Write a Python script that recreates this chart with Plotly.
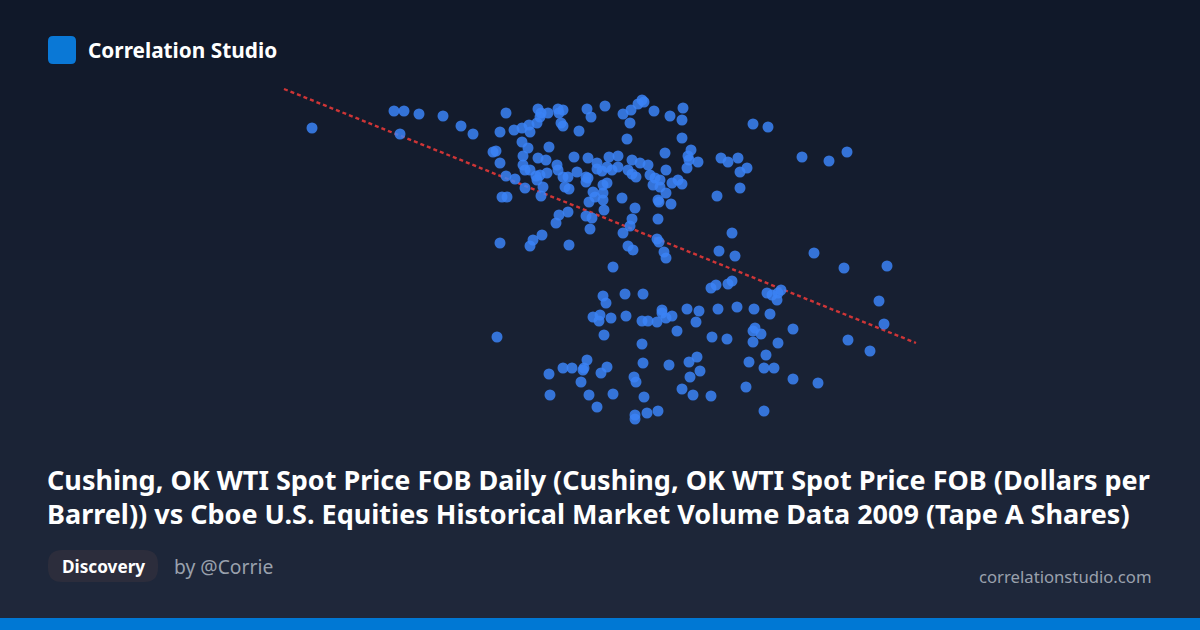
import plotly.graph_objects as go

# 2009 daily observations: WTI spot price ($/bbl) vs Cboe Tape A volume (millions of shares)
wti_price = [
    31.2, 39.4, 40.4, 41.9, 44.3, 46.1, 47.3, 40.0, 49.7,
    50.6, 50.0, 49.3, 49.6, 50.0, 50.6, 51.5, 50.2, 50.7, 50.0,
    51.4, 52.2, 52.9, 53.0, 53.7, 53.8, 54.1, 54.8, 54.0,
    55.8, 56.3, 55.9, 56.1, 56.3, 58.7, 59.1, 57.9,
    52.2, 52.8, 54.9, 52.3, 53.8, 54.6, 55.7, 57.4, 58.8,
    52.3, 52.5, 53.0, 53.6, 53.7, 54.0, 54.7, 55.8, 56.3, 56.8, 57.7, 59.7,
    56.5, 56.9, 58.6, 58.6, 58.8, 52.5, 54.3, 54.1, 59.3, 59.5, 58.9,
    55.9, 56.8, 55.6, 58.6, 59.2, 59.0, 54.2, 53.3, 53.0, 56.9, 59.7,
    60.5, 62.3, 63.1, 63.8, 64.2, 64.4, 63.0, 65.4, 67.0, 68.3, 68.2,
    62.7, 68.2, 66.5, 69.1, 68.8, 68.9, 69.8, 68.7, 66.6,
    60.9, 61.8, 60.2, 60.7, 61.2, 61.8, 63.2, 64.0, 64.8, 62.8, 63.2, 63.6,
    65.0, 65.5, 66.0, 65.3, 66.0, 66.6, 67.2, 67.8, 68.2,
    60.3, 60.7, 60.3, 60.3, 60.4, 62.2, 63.5, 63.2, 63.0, 62.3, 62.8, 63.3,
    65.8, 65.9, 67.1, 65.8, 65.7, 65.9, 66.4, 66.6,
    72.1, 72.8, 73.8, 74.7, 74.0, 74.0, 71.7, 75.3, 76.8, 80.2, 82.9, 84.7,
    73.2, 71.9, 73.5, 81.4, 84.4, 88.7, 61.3,
    71.1, 71.6, 72.8, 73.2, 76.7, 77.2, 77.7, 78.1, 77.8, 87.9, 88.4, 84.8, 87.0,
    60.3, 60.6, 62.5, 64.3, 59.3, 60.0, 59.9, 61.1, 62.6, 60.4, 64.2, 64.8, 65.7,
    66.2, 66.2, 66.6, 67.2, 67.7, 68.7, 69.9, 69.6, 71.8, 73.7, 75.4, 77.0,
    71.2, 72.7, 75.3, 75.5, 76.1, 75.3, 77.8, 79.3,
    64.2, 64.3, 66.9, 68.9, 69.7, 70.0, 69.0, 74.9, 76.6, 76.4, 77.4, 79.3, 81.8, 74.6, 76.4,
    54.9, 55.0, 56.3, 57.2, 58.7, 58.4, 58.3, 60.7, 60.1, 58.1, 58.9, 61.3, 59.7,
    63.4, 63.6, 64.4, 63.5, 63.5, 64.7, 65.8, 68.2, 69.3, 71.1,
]
tape_a_volume = [
    502, 519, 519, 516, 514, 504, 496, 496, 293,
    517, 498, 478, 479, 467, 454, 451, 433, 433, 387,
    500, 502, 505, 498, 507, 521, 517, 517, 513,
    521, 520, 517, 507, 504, 521, 513, 499,
    488, 482, 483, 474, 472, 470, 465, 473, 472,
    465, 460, 460, 454, 450, 455, 457, 460, 453, 453, 458, 461,
    443, 441, 453, 448, 452, 442, 443, 434, 438, 433, 428,
    415, 418, 407, 414, 412, 401, 395, 390, 384, 385, 467,
    524, 516, 520, 526, 530, 528, 507, 519, 514, 522, 510,
    491, 492, 477, 480, 474, 470, 468, 462, 460,
    473, 474, 459, 463, 460, 463, 470, 467, 465, 460, 456, 453,
    455, 452, 450, 445, 443, 437, 447, 450, 446,
    445, 447, 437, 430, 420, 432, 422, 411, 404, 397, 384, 380,
    430, 428, 426, 411, 391, 388, 378, 372,
    472, 468, 472, 462, 458, 442, 434, 506, 503, 473, 469, 478,
    397, 379, 374, 377, 362, 364, 363,
    342, 345, 346, 349, 337, 335, 330, 340, 337, 329, 306, 290, 279,
    334, 327, 336, 336, 313, 315, 309, 312, 314, 295, 309, 309, 308,
    320, 317, 312, 314, 299, 321, 319, 308, 321, 323, 321, 316,
    293, 291, 299, 302, 296, 288, 287, 301,
    286, 267, 265, 268, 273, 259, 253, 268, 275, 262, 262, 251, 247, 243, 219,
    256, 235, 262, 262, 270, 262, 260, 263, 257, 248, 235, 236, 223,
    253, 248, 233, 215, 211, 217, 219, 241, 235, 234,
]
trend_price = [28.4, 91.6]
trend_volume = [541, 287]

title_lines = [
    "Cushing, OK WTI Spot Price FOB Daily (Cushing, OK WTI Spot Price FOB (Dollars per",
    "Barrel)) vs Cboe U.S. Equities Historical Market Volume Data 2009 (Tape A Shares)",
]
brand = "Correlation Studio"
tag = "Discovery"
author = "by @Corrie"
site = "correlationstudio.com"

W, H = 1200, 630
FONT = "Noto Sans"


def px(x):
    return x / W


def py(y):
    return 1 - y / H


def rounded_rect(x0, y0, x1, y1, r):
    pts = [
        f"M {px(x0 + r)},{py(y0)}",
        f"L {px(x1 - r)},{py(y0)}",
        f"Q {px(x1)},{py(y0)} {px(x1)},{py(y0 + r)}",
        f"L {px(x1)},{py(y1 - r)}",
        f"Q {px(x1)},{py(y1)} {px(x1 - r)},{py(y1)}",
        f"L {px(x0 + r)},{py(y1)}",
        f"Q {px(x0)},{py(y1)} {px(x0)},{py(y1 - r)}",
        f"L {px(x0)},{py(y0 + r)}",
        f"Q {px(x0)},{py(y0)} {px(x0 + r)},{py(y0)}",
        "Z",
    ]
    return " ".join(pts)


fig = go.Figure()

fig.add_trace(go.Scatter(
    x=trend_price, y=trend_volume, mode="lines",
    line=dict(color="rgba(222,55,55,0.92)", width=2.4, dash="4px,3px"),
    hoverinfo="skip", showlegend=False,
))
fig.add_trace(go.Scatter(
    x=wti_price, y=tape_a_volume, mode="markers",
    marker=dict(size=11, color="#3b82f6", opacity=0.85, line=dict(width=0)),
    showlegend=False,
))

shapes = []
top = (16, 24, 41)
bot = (31, 40, 59)
N = 63
for i in range(N):
    t = i / (N - 1)
    c = tuple(round(top[k] + (bot[k] - top[k]) * t) for k in range(3))
    shapes.append(dict(type="rect", xref="paper", yref="paper",
                       x0=0, x1=1, y0=py(i * H / N + H / N + 0.5), y1=py(i * H / N),
                       fillcolor=f"rgb{c}", line=dict(width=0), layer="below"))
shapes.append(dict(type="rect", xref="paper", yref="paper", x0=0, x1=1,
                   y0=0, y1=py(618), fillcolor="#0078d4", line=dict(width=0), layer="above"))
shapes.append(dict(type="path", xref="paper", yref="paper",
                   path=rounded_rect(48, 36, 76, 64, 5), fillcolor="#0a78d6",
                   line=dict(width=0), layer="above"))
shapes.append(dict(type="path", xref="paper", yref="paper",
                   path=rounded_rect(48, 550, 158, 582, 14), fillcolor="#2c2d3c",
                   line=dict(width=0), layer="above"))

annotations = [
    dict(text=f"<b>{brand}</b>", x=px(86), y=py(50), xanchor="left", yanchor="middle",
         font=dict(family=FONT, size=20.8, color="white")),
    dict(text=f"<b>{title_lines[0]}</b>", x=px(45), y=py(479), xanchor="left", yanchor="middle",
         font=dict(family=FONT, size=27.0, color="white")),
    dict(text=f"<b>{title_lines[1]}</b>", x=px(45), y=py(513), xanchor="left", yanchor="middle",
         font=dict(family=FONT, size=27.0, color="white")),
    dict(text=f"<b>{tag}</b>", x=px(103), y=py(566), xanchor="center", yanchor="middle",
         font=dict(family=FONT, size=17.2, color="white")),
    dict(text=author, x=px(172), y=py(566), xanchor="left", yanchor="middle",
         font=dict(family=FONT, size=19.3, color="#9aa1ad")),
    dict(text=site, x=px(1154), y=py(576), xanchor="right", yanchor="middle",
         font=dict(family=FONT, size=16.7, color="#9aa1ad")),
]
for a in annotations:
    a.update(xref="paper", yref="paper", showarrow=False)

fig.update_layout(
    width=W, height=H,
    margin=dict(l=0, r=0, t=0, b=0),
    paper_bgcolor="#151c2e", plot_bgcolor="rgba(0,0,0,0)",
    xaxis=dict(range=[0, 120], visible=False, fixedrange=True),
    yaxis=dict(range=[0, 630], visible=False, fixedrange=True),
    shapes=shapes, annotations=annotations,
    font=dict(family=FONT),
)

fig.write_html(
    "out.html",
    config={"displayModeBar": False},
    post_script="document.body.style.margin='0';document.body.style.padding='0';document.body.style.overflow='hidden';",
)
